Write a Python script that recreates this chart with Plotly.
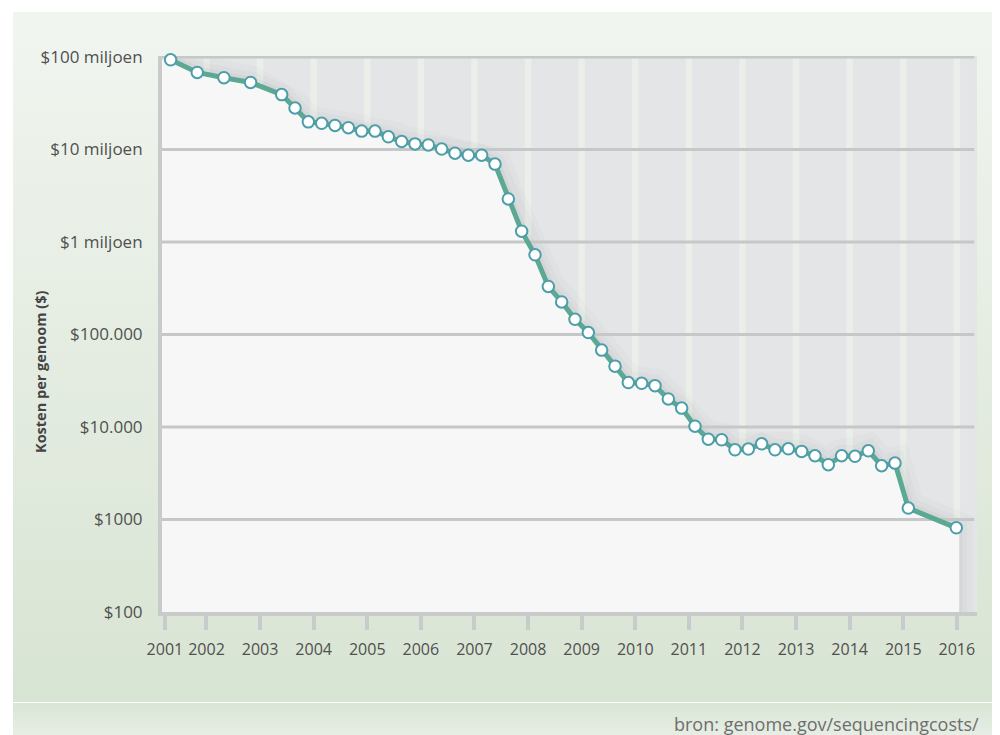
import base64
import plotly.graph_objects as go

# ---- data ----
years = [2001.667, 2002.167, 2002.667, 2003.167, 2003.75,
         2004.0, 2004.25, 2004.5, 2004.75,
         2005.0, 2005.25, 2005.5, 2005.75,
         2006.0, 2006.25, 2006.5, 2006.75,
         2007.0, 2007.25, 2007.5, 2007.75,
         2008.0, 2008.25, 2008.5, 2008.75,
         2009.0, 2009.25, 2009.5, 2009.75,
         2010.0, 2010.25, 2010.5, 2010.75,
         2011.0, 2011.25, 2011.5, 2011.75,
         2012.0, 2012.25, 2012.5, 2012.75,
         2013.0, 2013.25, 2013.5, 2013.75,
         2014.0, 2014.25, 2014.5, 2014.75,
         2015.0, 2015.25, 2015.5, 2016.4]
cost = [93.3e6, 68.1e6, 59.7e6, 53.1e6, 39.2e6,
        28.1e6, 19.9e6, 19.2e6, 18.2e6,
        17.2e6, 15.8e6, 15.8e6, 13.7e6,
        12.2e6, 11.5e6, 11.2e6, 10.1e6,
        9.13e6, 8.69e6, 8.69e6, 6.95e6,
        2.92e6, 1.31e6, 727e3, 331e3,
        225e3, 146e3, 105e3, 67.8e3,
        45.5e3, 30.2e3, 29.7e3, 28.0e3,
        20.1e3, 16.0e3, 10.2e3, 7390,
        7270, 5670, 5770, 6580,
        5670, 5810, 5450, 4890,
        3910, 4890, 4820, 5530,
        3810, 4070, 1330, 813]

x_tick_years = list(range(2001, 2017))
x_tick_labels = [str(y) for y in x_tick_years]
y_tick_vals = [1e2, 1e3, 1e4, 1e5, 1e6, 1e7, 1e8]
y_tick_text = ["$100", "$1000", "$10.000", "$100.000",
               "$1 miljoen", "$10 miljoen", "$100 miljoen"]
y_title = "Kosten per genoom ($)"
source_text = "bron: genome.gov/sequencingcosts/"

# ---- layout geometry (figure sits 8px inside the page) ----
OFF = 8
W, H = 1000 - OFF, 735 - OFF
ML, MR, MT, MB = 162 - OFF, 23, 56 - OFF, 123
PW, PH = W - ML - MR, H - MT - MB
x_range = [2001.506, 2016.788]
y_range = [2.0, 8.0108]

# tick placement used by the designer (slightly after January)
x_tick_pos = [2001.56] + [y + 0.34 + 0.005 * (y - 2002) for y in x_tick_years[1:]]

FONT = "Open Sans"
TXT = "#505050"
AXC = "#c9cacc"
GRID = "#c6c7c9"
LINE = "#5ba893"
MK = "#4c9fa8"

# background panel (gradient) as an SVG image
svg = f"""<svg xmlns='http://www.w3.org/2000/svg' width='{W}' height='{H}' viewBox='0 0 {W} {H}'>
<defs>
<linearGradient id='g1' x1='0' y1='0' x2='0' y2='1'>
<stop offset='0' stop-color='#f1f5f0'/><stop offset='1' stop-color='#d8e4d3'/></linearGradient>
<linearGradient id='g2' x1='0' y1='0' x2='0' y2='1'>
<stop offset='0' stop-color='#dae5d6'/><stop offset='1' stop-color='#eaf0e8'/></linearGradient>
</defs>
<rect x='0' y='0' width='{W}' height='{H}' fill='#ffffff'/>
<rect x='{13 - OFF}' y='{12 - OFF}' width='985' height='690' fill='url(#g1)'/>
<rect x='{13 - OFF}' y='{703 - OFF}' width='985' height='40' fill='url(#g2)'/>
</svg>"""
svg_uri = "data:image/svg+xml;base64," + base64.b64encode(svg.encode()).decode()

fig = go.Figure()

# soft shadow along the line (upper half stays visible above the fill)
sx = years + [years[-1]]
sy = cost + [y_tick_vals[0]]
for w, a in [(34, 0.016), (22, 0.02), (12, 0.026)]:
    fig.add_trace(go.Scatter(x=sx, y=sy, mode="lines",
                             line=dict(color=f"rgba(0,0,0,{a})", width=w),
                             hoverinfo="skip", showlegend=False))

# light area under the curve
fx = [x_range[0]] + years + [years[-1] + 0.05, years[-1] + 0.05, x_range[0]]
fy = [cost[0]] + cost + [cost[-1], y_tick_vals[0], y_tick_vals[0]]
fig.add_trace(go.Scatter(x=fx, y=fy, mode="lines", fill="toself",
                         fillcolor="#f7f7f7", line=dict(width=0),
                         hoverinfo="skip", showlegend=False))

# horizontal grid lines (drawn over the fill)
gx, gy = [], []
for v in y_tick_vals[1:]:
    gx += [x_range[0], x_range[1] - 0.05, None]
    gy += [v, v, None]
fig.add_trace(go.Scatter(x=gx, y=gy, mode="lines",
                         line=dict(color=GRID, width=3),
                         hoverinfo="skip", showlegend=False))

# main series
fig.add_trace(go.Scatter(x=years, y=cost, mode="lines+markers",
                         line=dict(color=LINE, width=5),
                         marker=dict(size=11.5, color="white",
                                     line=dict(color=MK, width=2)),
                         cliponaxis=False, showlegend=False))

shapes = [dict(type="rect", xref="x domain", yref="y domain", x0=0, x1=1, y0=0, y1=1,
               fillcolor="#e4e5e7", line=dict(width=0), layer="below")]
for tp in x_tick_pos:
    shapes.append(dict(type="rect", xref="x", yref="y domain", x0=tp - 0.06, x1=tp + 0.06,
                       y0=0, y1=1, fillcolor="#ebefea", line=dict(width=0), layer="below"))

fig.update_layout(
    width=W, height=H,
    margin=dict(l=ML, r=MR, t=MT, b=MB, pad=0),
    paper_bgcolor="white", plot_bgcolor="rgba(0,0,0,0)",
    font=dict(family=FONT, color=TXT),
    shapes=shapes,
    images=[dict(source=svg_uri, xref="paper", yref="paper",
                 x=-ML / PW, y=1 + MT / PH, sizex=W / PW, sizey=H / PH,
                 xanchor="left", yanchor="top", sizing="stretch", layer="below")],
    xaxis=dict(range=x_range, tickvals=x_tick_pos, ticktext=x_tick_labels,
               showgrid=False, zeroline=False, showline=True, linecolor=AXC, linewidth=4,
               ticks="outside", ticklen=14, tickwidth=4, tickcolor=AXC,
               tickfont=dict(size=16, color=TXT, family=FONT), ticklabelstandoff=6),
    yaxis=dict(type="log", range=y_range, tickvals=y_tick_vals, ticktext=y_tick_text,
               showgrid=False, zeroline=False, showline=True, linecolor=AXC, linewidth=4,
               ticks="", tickfont=dict(size=17, color=TXT, family=FONT),
               ticklabelstandoff=12),
    annotations=[
        dict(text=f"<b>{y_title}</b>", xref="paper", yref="paper",
             x=(40 - OFF - ML) / PW, y=(MT + PH - (372 - OFF)) / PH, textangle=-90,
             showarrow=False, xanchor="center", yanchor="middle",
             font=dict(size=14.5, color="#444444", family=FONT)),
        dict(text=source_text, xref="paper", yref="paper",
             x=(981 - OFF - ML) / PW, y=(MT + PH - (724 - OFF)) / PH, showarrow=False,
             xanchor="right", yanchor="middle",
             font=dict(size=18, color="#6e6e6e", family=FONT)),
    ],
)

fig.write_html("out.html")
